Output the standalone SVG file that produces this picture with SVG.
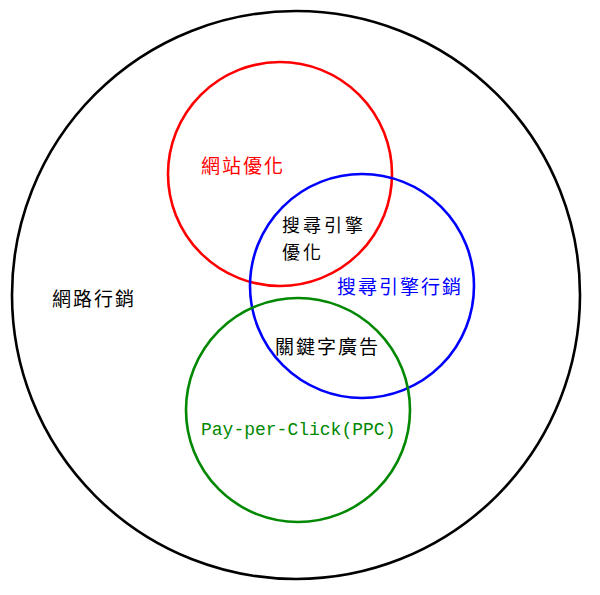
<svg xmlns="http://www.w3.org/2000/svg" width="600" height="595" viewBox="0 0 600 595">
<style>
.c{fill:none;stroke-width:2.6}
.t{font-family:"Noto Sans CJK TC","Noto Sans CJK SC",sans-serif;font-size:19px;letter-spacing:2px}
.s{font-size:18px;letter-spacing:3px}
.m{font-family:"Liberation Mono",monospace;font-size:18px}
</style>
<rect width="600" height="595" fill="#fff"/>
<g id="internet-marketing">
<circle class="c" cx="296" cy="295" r="284" stroke="#000"/>
<text class="t" x="52" y="306" fill="#000">網路行銷</text>
</g>
<g id="website-optimization">
<circle class="c" cx="280" cy="174" r="112" stroke="#f00"/>
<text class="t" x="201" y="173" fill="#f00">網站優化</text>
</g>
<g id="sem">
<circle class="c" cx="362" cy="286" r="112" stroke="#00f"/>
<text class="t" x="337" y="294" fill="#00f">搜尋引擎行銷</text>
</g>
<g id="ppc">
<circle class="c" cx="298" cy="410" r="112" stroke="#080"/>
<text class="m" x="201" y="435" fill="#080">Pay-per-Click(PPC)</text>
</g>
<g id="seo">
<text class="t s" x="282" y="232" fill="#000">搜尋引擎</text>
<text class="t s" x="282" y="259" fill="#000">優化</text>
</g>
<g id="keyword-ads">
<text class="t" x="275" y="354" fill="#000">關鍵字廣告</text>
</g>
<g id="connectors"></g>
</svg>
